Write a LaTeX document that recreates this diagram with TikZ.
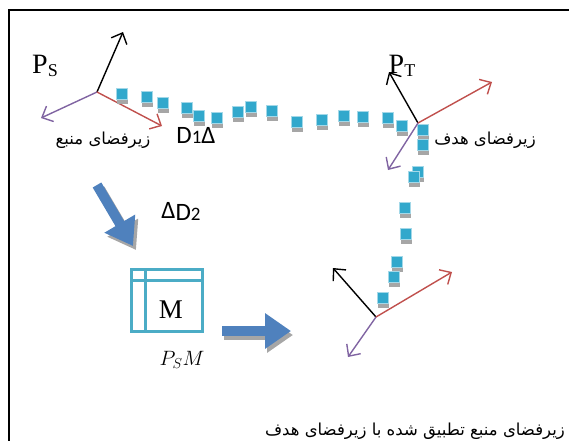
\documentclass[tikz,border=0pt]{standalone}
\usepackage{fontspec}
\setmainfont{Liberation Serif}
\newfontfamily\arabicfont[Script=Arabic]{DejaVu Sans}
\newfontfamily\calfont{Carlito}
\TeXXeTstate=1
\usetikzlibrary{arrows.meta,calc,shadows}

\definecolor{axred}{RGB}{192,80,77}
\definecolor{axpurple}{RGB}{128,100,162}
\definecolor{bigblue}{RGB}{79,129,189}
\definecolor{cellblue}{RGB}{50,168,204}
\definecolor{boxteal}{RGB}{75,172,198}

\tikzset{
  axis/.style={line width=1.4pt,-{Straight Barb[length=9pt,width=17pt]}},
  cell/.style={minimum size=11pt,inner sep=0pt,fill=cellblue,draw=cellblue!45,line width=0.7pt,
    drop shadow={shadow xshift=0pt,shadow yshift=-4pt,fill=black!35,opacity=1}},
  blockarrow/.style={line width=10pt,draw=bigblue,-{Triangle[length=26pt,width=34pt]}},
  blockshadow/.style={line width=10pt,draw=black!35,-{Triangle[length=26pt,width=34pt]}},
  artext/.style={font=\arabicfont\fontsize{16.5}{18}\selectfont,inner sep=0pt},
  sublabel/.style={font=\fontsize{28}{30}\selectfont,inner sep=0pt},
  dlabel/.style={font=\calfont\fontsize{25}{26}\selectfont,inner sep=0pt}
}

\begin{document}
\begin{tikzpicture}[x=1pt,y=-1pt]
\useasboundingbox (0,0) rectangle (569,440);
\draw[line width=2.5pt] (9,441) -- (9,10) -- (570,10);

% source subspace
\coordinate (so) at (97,92);
\coordinate (sx) at (123,32);
\coordinate (sy) at (41,118);
\coordinate (sz) at (162,126);
\draw[axis] (so) -- (sx);
\draw[axis,axpurple] (so) -- (sy);
\draw[axis,axred] (so) -- (sz);
\node[sublabel] (ps) at (45,66) {P\raisebox{-3pt}{\fontsize{18}{18}\selectfont S}};
\node[artext] (srclbl) at (103,140) {\beginR زیرفضای منبع\endR};

% cells along the path
\foreach \x/\y [count=\i] in {122/94,147/97,163/103,187/108,199/116,217/118,238/112,251/107,
    272/111,297/122,322/120,344/116,363/117,388/118,402/126,423/130,423/145,418/172,414/177,
    405/208,406/234,397/262,394/277,383/298}
  \node[cell] (c\i) at (\x,\y) {};

\node[dlabel] (d1) at (196,135) {D{\fontsize{19}{19}\selectfont 1}Δ};

% target subspace
\coordinate (to) at (418,123);
\coordinate (tx) at (389,72);
\coordinate (ty) at (388,170);
\coordinate (tz) at (492,82);
\draw[axis] (to) -- (tx);
\draw[axis,axpurple] (to) -- (ty);
\draw[axis,axred] (to) -- (tz);
\node[sublabel] (pt) at (402,66) {P\raisebox{-3pt}{\fontsize{18}{18}\selectfont T}};
\node[artext] (tgtlbl) at (485,140) {\beginR زیرفضای هدف\endR};

% mapping
\coordinate (a1) at (97,185);
\coordinate (a2) at (133,246);
\draw[blockshadow] ($(a1)+(3,4)$) -- ($(a2)+(3,4)$);
\draw[blockarrow] (a1) -- (a2);
\node[dlabel] (d2) at (181,211) {Δ\raisebox{-2pt}{D{\fontsize{19}{19}\selectfont 2}}};

\node[draw=boxteal,line width=3pt,minimum width=71pt,minimum height=62pt,inner sep=0pt] (mbox) at (167,300.5) {};
\draw[boxteal,line width=3pt] ($(mbox.north west)+(15,0)$) -- ($(mbox.south west)+(15,0)$);
\draw[boxteal,line width=3pt] ($(mbox.north west)+(0,12)$) -- ($(mbox.north east)+(0,12)$);
\node[font=\fontsize{27}{28}\selectfont,inner sep=0pt] (mlbl) at (171,310) {M};
\node[font=\fontsize{20}{22}\selectfont,inner sep=0pt] (psm) at (182,360) {$P_S M$};

\coordinate (b1) at (222,331);
\coordinate (b2) at (291,331);
\draw[blockshadow] ($(b1)+(2,4)$) -- ($(b2)+(2,4)$);
\draw[blockarrow] (b1) -- (b2);

% aligned subspace
\coordinate (bo) at (376,317);
\coordinate (bx) at (333,268);
\coordinate (by) at (348,357);
\coordinate (bz) at (452,272);
\draw[axis] (bo) -- (bx);
\draw[axis,axpurple] (bo) -- (by);
\draw[axis,axred] (bo) -- (bz);

\node[artext,anchor=east] (reslbl) at (565,431) {\beginR زیرفضای منبع تطبیق شده با زیرفضای هدف\endR};
\end{tikzpicture}
\end{document}
